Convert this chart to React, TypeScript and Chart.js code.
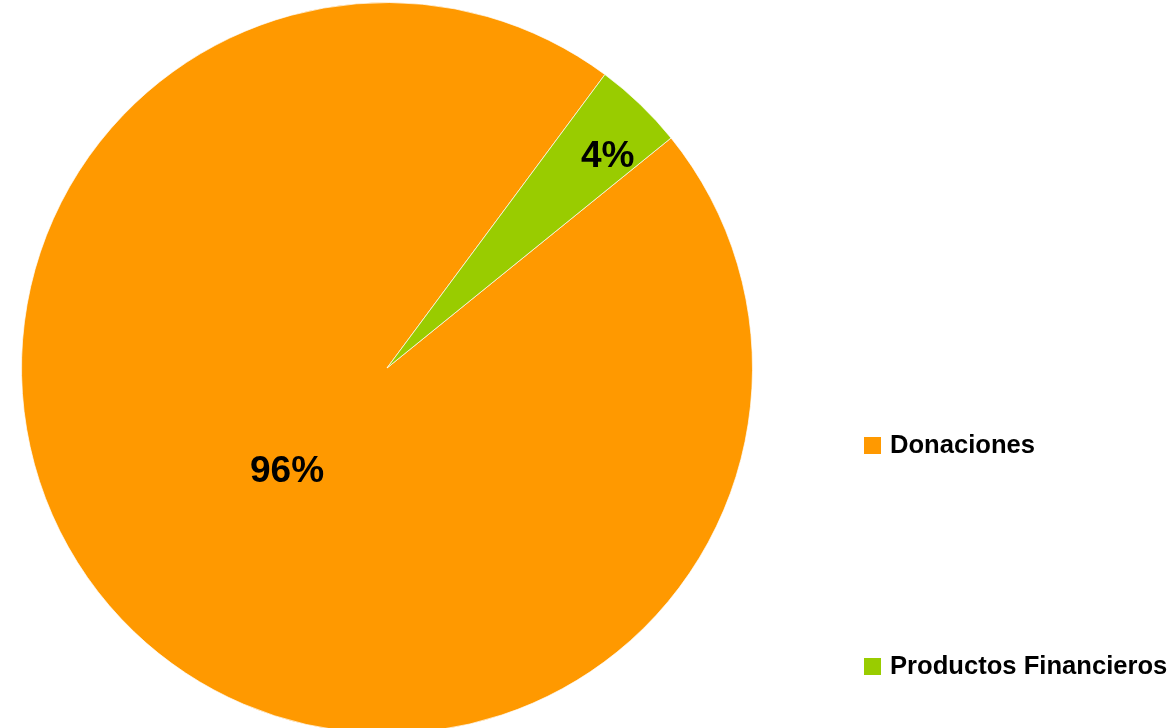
import React, { useEffect, useRef } from "react";
import { Chart, registerables } from "chart.js";

Chart.register(...registerables);

const categories = ["Donaciones", "Productos Financieros"];
const values = [96, 4];
const colors = ["#FF9900", "#99CC00"];

const labelPlugin = {
  id: "sliceLabels",
  afterDatasetsDraw(chart: any) {
    const ctx = chart.ctx;
    const meta = chart.getDatasetMeta(0);
    const data = chart.data.datasets[0].data as number[];
    const total = data.reduce((a: number, b: number) => a + b, 0);
    const fracs = [0.395, 0.835];
    const angleShift = [0, 2.5];
    ctx.save();
    ctx.font = "bold 37px 'Liberation Sans', Arial, sans-serif";
    ctx.fillStyle = "#000";
    ctx.textAlign = "center";
    ctx.textBaseline = "middle";
    meta.data.forEach((arc: any, i: number) => {
      const p = arc.getProps(["x", "y", "startAngle", "endAngle", "outerRadius"], true);
      const mid = (p.startAngle + p.endAngle) / 2 + (angleShift[i] * Math.PI) / 180;
      const r = p.outerRadius * fracs[i];
      const x = p.x + Math.cos(mid) * r;
      const y = p.y + Math.sin(mid) * r;
      ctx.fillText(Math.round((data[i] / total) * 100) + "%", x, y);
    });
    ctx.restore();
  },
};

const legendPlugin = {
  id: "sideLegend",
  afterDraw(chart: any) {
    const ctx = chart.ctx;
    const labels = chart.data.labels as string[];
    const bg = chart.data.datasets[0].backgroundColor as string[];
    const ys = [445, 666];
    ctx.save();
    ctx.font = "bold 25.6px 'Liberation Sans', Arial, sans-serif";
    ctx.textBaseline = "middle";
    ctx.textAlign = "left";
    labels.forEach((l, i) => {
      ctx.fillStyle = bg[i];
      ctx.fillRect(864, ys[i] - 8, 17, 17);
      ctx.fillStyle = "#000";
      ctx.fillText(l, 890, ys[i] + 1);
    });
    ctx.restore();
  },
};

export default function App() {
  const ref = useRef<HTMLCanvasElement>(null);
  useEffect(() => {
    if (!ref.current) return;
    const chart = new Chart(ref.current, {
      type: "pie",
      data: {
        labels: categories,
        datasets: [
          {
            data: values,
            backgroundColor: colors,
            borderColor: "rgba(255,255,255,0.7)",
            borderWidth: 1,
          },
        ],
      },
      options: {
        responsive: false,
        animation: false,
        rotation: 51,
        layout: { padding: { left: 21, right: 420, top: 2, bottom: 6 } },
        plugins: {
          legend: { display: false },
          tooltip: { enabled: false },
        },
      },
      plugins: [labelPlugin, legendPlugin],
    });
    return () => chart.destroy();
  }, []);
  return (
    <div style={{ position: "fixed", left: 0, top: 0, width: 1173, height: 728, overflow: "hidden", background: "#fff" }}>
      <canvas ref={ref} width={1173} height={740} style={{ width: 1173, height: 740, display: "block" }} />
    </div>
  );
}
